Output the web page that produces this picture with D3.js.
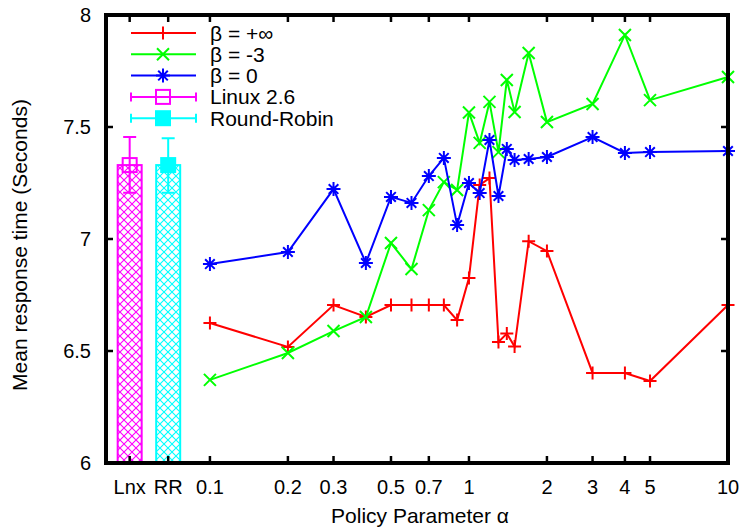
<!DOCTYPE html>
<html>
<head>
<meta charset="utf-8">
<script src="https://cdn.jsdelivr.net/npm/d3@7"></script>
<style>
  body { margin: 0; background: #fff; }
  text { font-family: "Liberation Sans", Arial, sans-serif; fill: #000; }
</style>
</head>
<body>
<div id="chart"></div>
<script>
// policy parameter alpha values (shared by the three beta series)
const alphas = [0.1, 0.2, 0.3, 0.4, 0.5, 0.6, 0.7, 0.8, 0.9, 1.0, 1.1, 1.2, 1.3, 1.4, 1.5, 1.7, 2, 3, 4, 5, 10];

// mean response time per series
const betaInf  = [6.625, 6.518, 6.705, 6.652, 6.705, 6.705, 6.705, 6.705, 6.638, 6.826, 7.241, 7.272, 6.54, 6.578, 6.52, 6.99, 6.946, 6.402, 6.402, 6.366, 6.705];
const betaNeg3 = [6.371, 6.491, 6.589, 6.652, 6.982, 6.866, 7.129, 7.254, 7.219, 7.565, 7.429, 7.612, 7.388, 7.71, 7.567, 7.83, 7.522, 7.603, 7.911, 7.62, 7.723];
const betaZero = [6.888, 6.942, 7.223, 6.893, 7.188, 7.161, 7.281, 7.362, 7.062, 7.25, 7.205, 7.442, 7.192, 7.402, 7.353, 7.357, 7.366, 7.455, 7.384, 7.388, 7.393];

// baseline schedulers drawn as bars with error bars
const baseNames = ["Lnx", "RR"];
const baseLabels = ["Linux 2.6", "Round-Robin"];
const baseAlpha = [0.049, 0.069];   // where gnuplot put them on the log axis
const baseMean  = [7.33, 7.33];
const baseLow   = [7.207, 7.207];
const baseHigh  = [7.455, 7.45];

// axis ticks
const xTickValues = [0.1, 0.2, 0.3, 0.5, 0.7, 1, 2, 3, 4, 5, 10];
const xTickLabels = ["0.1", "0.2", "0.3", "0.5", "0.7", "1", "2", "3", "4", "5", "10"];
const yTickValues = [6, 6.5, 7, 7.5, 8];

const width = 745, height = 527;
const plot = {left: 106, right: 728, top: 15, bottom: 463};

const svg = d3.select("#chart").append("svg")
    .attr("width", width)
    .attr("height", height);

const x = d3.scaleLog().domain([0.0397, 10]).range([plot.left, plot.right]);
const y = d3.scaleLinear().domain([6, 8]).range([plot.bottom, plot.top]);

const series = [
    {name: "\u03b2 = +\u221e", values: betaInf,  color: "#ff0000", marker: "plus"},
    {name: "\u03b2 = -3",      values: betaNeg3, color: "#00ff00", marker: "cross"},
    {name: "\u03b2 = 0",       values: betaZero, color: "#0000ff", marker: "star"}
];
const baseColors = ["#ff00ff", "#00ffff"];

// marker shapes in gnuplot style
function markerPath(type) {
    const p = 6.5, c = 6, s = 4.8;
    if (type === "plus") return `M${-p},0H${p}M0,${-p}V${p}`;
    if (type === "cross") return `M${-c},${-c}L${c},${c}M${-c},${c}L${c},${-c}`;
    return `M${-7},0H7M0,-7V7M${-s},${-s}L${s},${s}M${-s},${s}L${s},${-s}`;
}

// crosshatch patterns for the bars
const defs = svg.append("defs");
baseColors.forEach((col, i) => {
    const pat = defs.append("pattern")
        .attr("id", "hatch" + i)
        .attr("patternUnits", "userSpaceOnUse")
        .attr("width", 8).attr("height", 8);
    pat.append("rect").attr("width", 8).attr("height", 8).attr("fill", "#fff");
    pat.append("path")
        .attr("d", "M0,0L8,8M0,8L8,0")
        .attr("stroke", col).attr("stroke-width", 1.1);
});

// bars
const barW = 24;
const baseData = baseNames.map((n, i) => ({
    name: n, label: baseLabels[i], a: baseAlpha[i], mean: baseMean[i],
    low: baseLow[i], high: baseHigh[i], color: baseColors[i], i: i
}));

svg.selectAll(".bar")
    .data(baseData)
    .enter().append("rect")
    .attr("class", "bar")
    .attr("x", d => x(d.a) - barW / 2)
    .attr("y", d => y(d.mean))
    .attr("width", barW)
    .attr("height", d => y(6) - y(d.mean))
    .attr("fill", d => `url(#hatch${d.i})`)
    .attr("stroke", d => d.color)
    .attr("stroke-width", 2);

// error bars
const errG = svg.selectAll(".err")
    .data(baseData)
    .enter().append("g")
    .attr("class", "err")
    .attr("stroke", d => d.color)
    .attr("stroke-width", 2)
    .attr("fill", "none");

errG.append("path")
    .attr("d", d => {
        const cx = x(d.a), cap = 6.5;
        return `M${cx},${y(d.low)}V${y(d.high)}M${cx - cap},${y(d.low)}H${cx + cap}M${cx - cap},${y(d.high)}H${cx + cap}`;
    });

errG.append("rect")
    .attr("x", d => x(d.a) - 7)
    .attr("y", d => y(d.mean) - 7)
    .attr("width", 14).attr("height", 14)
    .attr("fill", d => d.i === 1 ? d.color : "none");

// lines and markers
const line = d3.line()
    .x((d, i) => x(alphas[i]))
    .y(d => y(d));

series.forEach(s => {
    svg.append("path")
        .datum(s.values)
        .attr("d", line)
        .attr("fill", "none")
        .attr("stroke", s.color)
        .attr("stroke-width", 2);

    svg.selectAll(null)
        .data(s.values)
        .enter().append("path")
        .attr("transform", (d, i) => `translate(${x(alphas[i])},${y(d)})`)
        .attr("d", markerPath(s.marker))
        .attr("fill", "none")
        .attr("stroke", s.color)
        .attr("stroke-width", 2);
});

// frame
svg.append("rect")
    .attr("x", plot.left).attr("y", plot.top)
    .attr("width", plot.right - plot.left)
    .attr("height", plot.bottom - plot.top)
    .attr("fill", "none")
    .attr("stroke", "#000")
    .attr("stroke-width", 4);

// ticks (inward, mirrored)
const tickLen = 7;
const allX = baseAlpha.concat(xTickValues.slice(0, -1));
const tickG = svg.append("g").attr("stroke", "#000").attr("stroke-width", 2.5);

allX.forEach(v => {
    tickG.append("line").attr("x1", x(v)).attr("x2", x(v))
        .attr("y1", plot.bottom).attr("y2", plot.bottom - tickLen);
    tickG.append("line").attr("x1", x(v)).attr("x2", x(v))
        .attr("y1", plot.top).attr("y2", plot.top + tickLen);
});
yTickValues.slice(1, -1).forEach(v => {
    tickG.append("line").attr("x1", plot.left).attr("x2", plot.left + tickLen)
        .attr("y1", y(v)).attr("y2", y(v));
    tickG.append("line").attr("x1", plot.right).attr("x2", plot.right - tickLen)
        .attr("y1", y(v)).attr("y2", y(v));
});

// tick labels
const tickFont = 20, titleFont = 21;
svg.selectAll(".xlab")
    .data(xTickValues)
    .enter().append("text")
    .attr("class", "xlab")
    .attr("x", d => x(d))
    .attr("y", 494)
    .attr("text-anchor", "middle")
    .attr("font-size", tickFont)
    .text((d, i) => xTickLabels[i]);

svg.selectAll(".blab")
    .data(baseData)
    .enter().append("text")
    .attr("class", "blab")
    .attr("x", d => x(d.a))
    .attr("y", 494)
    .attr("text-anchor", "middle")
    .attr("font-size", tickFont)
    .text(d => d.name);

svg.selectAll(".ylab")
    .data(yTickValues)
    .enter().append("text")
    .attr("class", "ylab")
    .attr("x", 91)
    .attr("y", d => y(d) + 7)
    .attr("text-anchor", "end")
    .attr("font-size", tickFont)
    .text(d => d3.format("~g")(d));

// axis titles
svg.append("text")
    .attr("x", 420).attr("y", 523)
    .attr("text-anchor", "middle")
    .attr("font-size", titleFont)
    .text("Policy Parameter \u03b1");

svg.append("text")
    .attr("transform", `translate(27, ${(plot.top + plot.bottom) / 2 + 6}) rotate(-90)`)
    .attr("text-anchor", "middle")
    .attr("font-size", titleFont)
    .text("Mean response time (Seconds)");

// legend
const legend = svg.append("g").attr("class", "legend");
const legX1 = 131, legX2 = 196, legMid = 163, legText = 210, legY0 = 33, legStep = 21.3;

series.forEach((s, i) => {
    const ly = legY0 + i * legStep;
    legend.append("path")
        .attr("d", `M${legX1},${ly}H${legX2}`)
        .attr("stroke", s.color).attr("stroke-width", 2);
    legend.append("path")
        .attr("transform", `translate(${legMid},${ly})`)
        .attr("d", markerPath(s.marker))
        .attr("fill", "none")
        .attr("stroke", s.color).attr("stroke-width", 2);
    legend.append("text")
        .attr("x", legText).attr("y", ly + 7.5)
        .attr("font-size", titleFont)
        .text(s.name);
});

baseData.forEach((d, j) => {
    const ly = legY0 + (series.length + j) * legStep;
    legend.append("path")
        .attr("d", `M${legX1},${ly}H${legX2}M${legX1},${ly - 4.5}V${ly + 4.5}M${legX2},${ly - 4.5}V${ly + 4.5}`)
        .attr("stroke", d.color).attr("stroke-width", 2);
    legend.append("rect")
        .attr("x", legMid - 7).attr("y", ly - 7)
        .attr("width", 14).attr("height", 14)
        .attr("fill", j === 1 ? d.color : "none")
        .attr("stroke", d.color).attr("stroke-width", 2);
    legend.append("text")
        .attr("x", legText).attr("y", ly + 7.5)
        .attr("font-size", titleFont)
        .text(d.label);
});
</script>
</body>
</html>
